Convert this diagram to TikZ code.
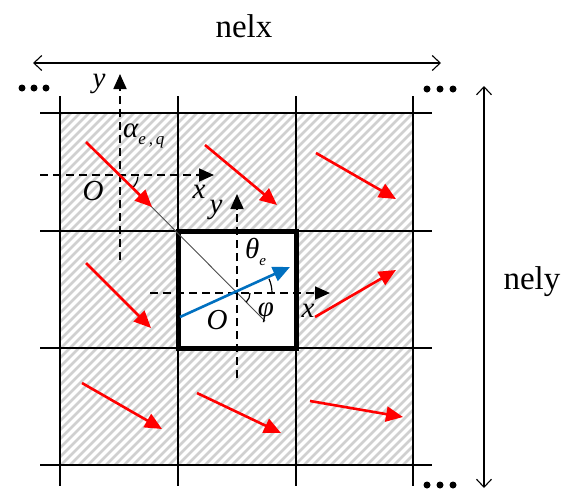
\documentclass[tikz,border=0pt]{standalone}
\usepackage{fontspec}
\setmainfont{Liberation Serif}
\usetikzlibrary{arrows.meta}
\definecolor{hatchgray}{RGB}{208,208,208}
\definecolor{vecblue}{RGB}{0,112,192}
\definecolor{vecred}{RGB}{255,0,0}
\tikzset{
  gridline/.style={line width=2.2pt, black},
  axisline/.style={line width=1.8pt, black, dash pattern=on 8pt off 5pt, -{Triangle[length=15pt,width=13pt]}},
  redvec/.style={line width=2.6pt, vecred, -{Triangle[length=17pt,width=15pt]}},
  bluevec/.style={line width=2.6pt, vecblue, -{Triangle[length=17pt,width=15pt]}},
  dimline/.style={line width=1.1pt, black, {Straight Barb[length=8pt,width=15pt]}-{Straight Barb[length=8pt,width=15pt]}},
  lbl/.style={inner sep=0pt, font=\fontsize{29}{29}\selectfont\itshape},
  biglbl/.style={inner sep=0pt, font=\fontsize{33}{33}\selectfont},
  dotmark/.style={circle, fill=black, inner sep=0pt, minimum size=7pt}
}
\begin{document}
\begin{tikzpicture}[x=1pt,y=1pt,yscale=-1]
\useasboundingbox (0,0) rectangle (565,491);
% hatched field
\begin{scope}
  \clip (60,113) rectangle (413,465);
  \foreach \i in {-400,-391,...,420} {
    \draw[hatchgray, line width=2.6pt] (60+\i,470) -- ++(360,-360);
  }
\end{scope}
\fill[white] (178,231) rectangle (296,348);
% grid
\foreach \x in {60,178,296,413} { \draw[gridline] (\x,96) -- (\x,486); }
\foreach \y in {113,231,348,465} { \draw[gridline] (40,\y) -- (432,\y); }
\draw[line width=5pt, black] (178,231) rectangle (296,348);
% dots
\foreach \x/\y/\n in {22/88/a,34/88/b,46/88/c,427/89/d,440/89/e,453/89/f,427/485/g,440/485/h,453/485/i} {
  \node[dotmark] (dot\n) at (\x,\y) {};
}
% dimension arrows
\coordinate (nxL) at (33,63);
\coordinate (nxR) at (441,63);
\draw[dimline] (nxL) -- (nxR);
\node[biglbl] (nelx) at (244,26) {nelx};
\coordinate (nyT) at (484,86);
\coordinate (nyB) at (484,488);
\draw[dimline] (nyT) -- (nyB);
\node[biglbl] (nely) at (532,282) {nely};
% diagonal reference line
\coordinate (O1) at (120,175);
\coordinate (O2) at (237,293);
\coordinate (diagEnd) at (265,321);
\draw[line width=0.9pt, black!70] (O1) -- (diagEnd);
% local axes of neighbour element
\coordinate (a1b) at (120,260);
\coordinate (a1t) at (120,74);
\coordinate (a1l) at (40,175);
\coordinate (a1r) at (214,175);
\draw[axisline] (a1b) -- (a1t);
\draw[axisline] (a1l) -- (a1r);
% local axes of central element
\coordinate (a2b) at (237,378);
\coordinate (a2t) at (237,194);
\coordinate (a2l) at (150,293);
\coordinate (a2r) at (330,293);
\draw[axisline] (a2b) -- (a2t);
\draw[axisline] (a2l) -- (a2r);
% angle arcs
\draw[line width=1.2pt] ([shift={(5:18)}]O1) arc[start angle=5, end angle=42, radius=18];
\draw[line width=1.2pt] ([shift={(-24:35)}]O2) arc[start angle=-24, end angle=0, radius=35];
\draw[line width=1.2pt] ([shift={(0:13)}]O2) arc[start angle=0, end angle=45, radius=13];
% red vectors
\foreach \n/\sx/\sy/\ex/\ey in {tl/86/142/152/207, tc/205/145/277/205, tr/316/153/396/199,
  ml/86/263/151/328, mr/315/317/396/270,
  bl/82/383/162/429, bc/197/393/281/433, br/310/401/403/417} {
  \coordinate (r\n s) at (\sx,\sy);
  \coordinate (r\n e) at (\ex,\ey);
  \draw[redvec] (r\n s) -- (r\n e);
}
% blue vector
\coordinate (bs) at (180,317);
\coordinate (be) at (290,267);
\draw[bluevec] (bs) -- (be);
% labels
\node[lbl] (y1) at (99,84) {y};
\node[lbl, anchor=west] (alpha) at (123,136) {α\raisebox{-7pt}{\fontsize{17}{17}\selectfont e\,,\,q}};
\node[lbl] (o1) at (93,191) {O};
\node[lbl] (x1) at (199,192) {x};
\node[lbl] (y2) at (216,210) {y};
\node[lbl, anchor=west] (theta) at (245,252) {θ\raisebox{-7pt}{\fontsize{15}{15}\selectfont e}};
\node[lbl] (o2) at (217,320) {O};
\node[lbl] (phi) at (266,313) {φ};
\node[lbl] (x2) at (308,311) {x};
\end{tikzpicture}
\end{document}
